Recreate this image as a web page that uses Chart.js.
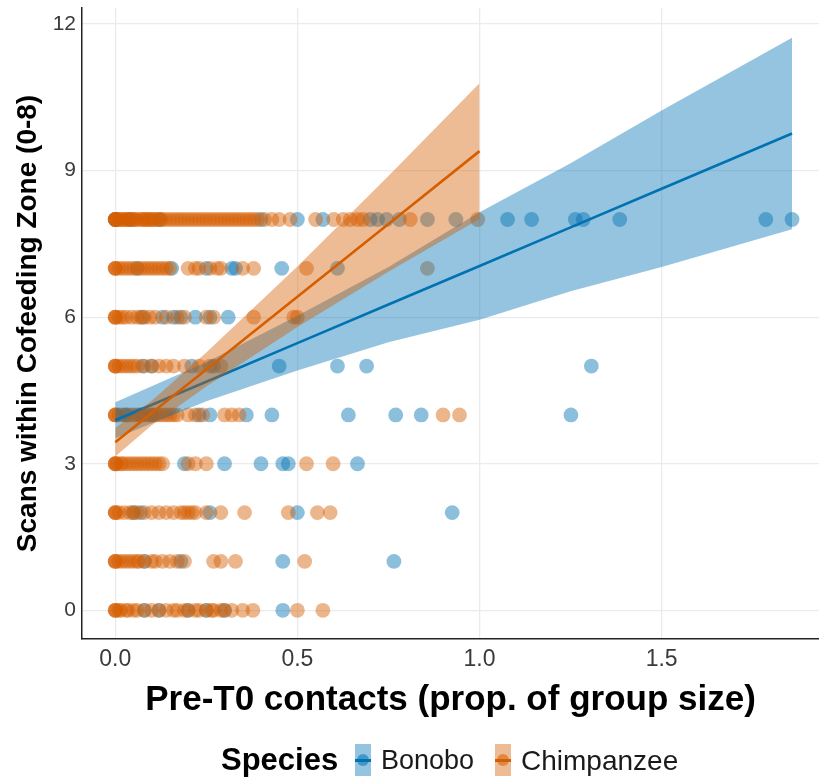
<!DOCTYPE html>
<html>
<head>
<meta charset="utf-8">
<script src="https://cdn.jsdelivr.net/npm/chart.js@4.4.1/dist/chart.umd.min.js"></script>
<style>
  html, body { margin: 0; padding: 0; background: #fff; overflow: hidden; width: 819px; height: 778px; }
  #wrap { position: relative; width: 819px; height: 778px; overflow: hidden; }
  #c { position: absolute; left: 0; top: 0; }
  .lg { position: absolute; font-family: "Liberation Sans", Arial, sans-serif; white-space: nowrap; line-height: 1; }
  .key { position: absolute; width: 16px; height: 32px; }
  .key .ln { position: absolute; left: 0; right: 0; top: 15px; height: 2.5px; }
  .key .pt { position: absolute; left: 2px; top: 10px; width: 12px; height: 12px; border-radius: 50%; }
</style>
</head>
<body>
<div id="wrap">
  <canvas id="c" width="819" height="778"></canvas>
  <div class="lg" style="left:221px; top:744px; font-size:31px; font-weight:bold; color:#000;">Species</div>
  <div class="key" style="left:355px; top:744px; background:rgba(0,114,178,0.42);"><div class="ln" style="background:#0072B2"></div><div class="pt" style="background:rgba(0,114,178,0.55)"></div></div>
  <div class="lg" style="left:381px; top:747px; font-size:27px; color:#1a1a1a;">Bonobo</div>
  <div class="key" style="left:495px; top:744px; background:rgba(213,94,0,0.42);"><div class="ln" style="background:#D55E00"></div><div class="pt" style="background:rgba(213,94,0,0.55)"></div></div>
  <div class="lg" style="left:521px; top:747px; font-size:28px; color:#1a1a1a;">Chimpanzee</div>
</div>
<script>
// ---- Data ----
// y levels (scans within cofeeding zone, 0-8)
const scanLevels = [0, 1, 2, 3, 4, 5, 6, 7, 8];

// Pre-T0 contacts (x) for each scan level, by species
const bonoboX = [
  [0.08, 0.12, 0.2, 0.25, 0.3, 0.46],                                   // 0
  [0.08, 0.18, 0.46, 0.765],                                            // 1
  [0.05, 0.07, 0.26, 0.5, 0.925],                                       // 2
  [0.19, 0.3, 0.4, 0.46, 0.475, 0.665],                                 // 3
  [0.03, 0.07, 0.1, 0.23, 0.26, 0.36, 0.43, 0.64, 0.77, 0.84, 1.251],   // 4
  [0.075, 0.1, 0.21, 0.27, 0.45, 0.61, 0.69, 1.307],                    // 5
  [0.075, 0.13, 0.16, 0.18, 0.22, 0.26, 0.31],                          // 6
  [0.06, 0.155, 0.25, 0.32, 0.33, 0.457, 0.61],                         // 7
  [0, 0.04, 0.12, 0.4, 0.5, 0.57, 0.7, 0.72, 0.745, 0.78, 0.857, 0.935,
   1.077, 1.143, 1.263, 1.285, 1.385, 1.786, 1.858]                     // 8
];
const chimpanzeeX = [
  [0, 0, 0, 0.01, 0.015, 0.03, 0.035, 0.05, 0.06, 0.08, 0.1, 0.12, 0.14, 0.16, 0.17, 0.19, 0.2, 0.22,
   0.23, 0.25, 0.265, 0.27, 0.29, 0.3, 0.32, 0.35, 0.378, 0.5, 0.57],                               // 0
  [0, 0, 0, 0.01, 0.02, 0.03, 0.04, 0.05, 0.06, 0.065, 0.08, 0.1, 0.11, 0.13, 0.15, 0.17, 0.19,
   0.27, 0.29, 0.33, 0.52],                                                                          // 1
  [0, 0, 0, 0.01, 0.025, 0.04, 0.05, 0.06, 0.08, 0.1, 0.12, 0.14, 0.16, 0.18, 0.19, 0.2, 0.21, 0.22,
   0.25, 0.29, 0.355, 0.475, 0.555, 0.59],                                                          // 2
  [0, 0, 0, 0.005, 0.015, 0.02, 0.03, 0.04, 0.05, 0.06, 0.07, 0.08, 0.09, 0.1, 0.11, 0.12, 0.13,
   0.2, 0.22, 0.25, 0.525, 0.598],                                                                   // 3
  [0, 0, 0, 0.01, 0.02, 0.03, 0.04, 0.05, 0.06, 0.07, 0.08, 0.09, 0.1, 0.11, 0.12, 0.13, 0.14, 0.15,
   0.16, 0.17, 0.2, 0.22, 0.24, 0.3, 0.32, 0.34, 0.9, 0.945],                                        // 4
  [0, 0, 0, 0.01, 0.02, 0.03, 0.04, 0.05, 0.06, 0.08, 0.1, 0.12, 0.14, 0.16, 0.19, 0.23, 0.26, 0.29], // 5
  [0, 0, 0, 0.01, 0.02, 0.03, 0.045, 0.06, 0.07, 0.08, 0.095, 0.11, 0.14, 0.17, 0.19, 0.25, 0.27,
   0.38, 0.49, 0.5],                                                                                 // 6
  [0, 0, 0, 0.01, 0.02, 0.03, 0.04, 0.05, 0.06, 0.07, 0.08, 0.09, 0.1, 0.11, 0.12, 0.13, 0.14, 0.15,
   0.2, 0.22, 0.23, 0.26, 0.28, 0.29, 0.35, 0.38, 0.525, 0.857],                                     // 7
  [0, 0, 0, 0, 0.005, 0.01, 0.015, 0.02, 0.025, 0.03, 0.035, 0.04, 0.045, 0.05, 0.055, 0.06, 0.07,
   0.075, 0.08, 0.085, 0.09, 0.095, 0.1, 0.105, 0.11, 0.12, 0.125, 0.13, 0.14, 0.15, 0.16, 0.17,
   0.18, 0.19, 0.2, 0.21, 0.22, 0.23, 0.24, 0.25, 0.26, 0.27, 0.28, 0.29, 0.3, 0.31, 0.32, 0.33,
   0.34, 0.35, 0.36, 0.37, 0.38, 0.39, 0.41, 0.43, 0.45, 0.48, 0.55, 0.6, 0.626, 0.645, 0.665, 0.68,
   0.81, 0.995]                                                                                      // 8
];

// Linear fits with 95% confidence band
const bonoboFitX     = [0, 0.25, 0.5, 0.75, 1.0, 1.25, 1.5, 1.858];
const bonoboFit      = [3.89, 4.68, 5.47, 6.26, 7.05, 7.84, 8.63, 9.76];
const bonoboUpper    = [4.26, 5.08, 6.03, 7.03, 8.15, 9.15, 10.23, 11.72];
const bonoboLower    = [3.52, 4.28, 4.91, 5.49, 5.95, 6.53, 7.03, 7.80];

const chimpanzeeFitX  = [0, 0.1, 0.25, 0.5, 0.75, 1.0];
const chimpanzeeFit   = [3.44, 4.04, 4.93, 6.42, 7.91, 9.40];
const chimpanzeeUpper = [3.73, 4.29, 5.28, 7.04, 8.89, 10.79];
const chimpanzeeLower = [3.15, 3.79, 4.58, 5.80, 6.93, 8.01];

// Axis ticks
const xTicks = [0, 0.5, 1.0, 1.5];
const yTicks = [0, 3, 6, 9, 12];

// ---- Build chart ----
const BLUE = '#0072B2', ORANGE = '#D55E00';
function pts(rows) {
  const out = [];
  rows.forEach((xs, i) => xs.forEach(x => out.push({ x: x, y: scanLevels[i] })));
  return out;
}
function xy(xs, ys) { return xs.map((x, i) => ({ x: x, y: ys[i] })); }

const FONT = '"Liberation Sans", Arial, sans-serif';

new Chart(document.getElementById('c'), {
  type: 'scatter',
  data: {
    datasets: [
      { type: 'line', label: 'Chimpanzee fit', data: xy(chimpanzeeFitX, chimpanzeeFit), borderColor: ORANGE, borderWidth: 2.6, pointRadius: 0, fill: false, order: 1, tension: 0 },
      { type: 'line', label: 'Chimpanzee upper', data: xy(chimpanzeeFitX, chimpanzeeUpper), borderWidth: 0, borderColor: 'rgba(0,0,0,0)', backgroundColor: 'rgba(213,94,0,0.42)', pointRadius: 0, fill: '+1', order: 2, tension: 0 },
      { type: 'line', label: 'Chimpanzee lower', data: xy(chimpanzeeFitX, chimpanzeeLower), borderWidth: 0, borderColor: 'rgba(0,0,0,0)', pointRadius: 0, fill: false, order: 2, tension: 0 },
      { type: 'line', label: 'Bonobo fit', data: xy(bonoboFitX, bonoboFit), borderColor: BLUE, borderWidth: 2.6, pointRadius: 0, fill: false, order: 3, tension: 0 },
      { type: 'line', label: 'Bonobo upper', data: xy(bonoboFitX, bonoboUpper), borderWidth: 0, borderColor: 'rgba(0,0,0,0)', backgroundColor: 'rgba(0,114,178,0.42)', pointRadius: 0, fill: '+1', order: 4, tension: 0 },
      { type: 'line', label: 'Bonobo lower', data: xy(bonoboFitX, bonoboLower), borderWidth: 0, borderColor: 'rgba(0,0,0,0)', pointRadius: 0, fill: false, order: 4, tension: 0 },
      { label: 'Chimpanzee', data: pts(chimpanzeeX), backgroundColor: 'rgba(213,94,0,0.45)', borderWidth: 0, pointRadius: 7.4, order: 5 },
      { label: 'Bonobo', data: pts(bonoboX), backgroundColor: 'rgba(0,114,178,0.45)', borderWidth: 0, pointRadius: 7.4, order: 6 }
    ]
  },
  options: {
    responsive: false,
    animation: false,
    devicePixelRatio: 1,
    layout: { autoPadding: false, padding: { left: 0, right: 0, top: 8, bottom: 57 } },
    plugins: { legend: { display: false }, tooltip: { enabled: false } },
    scales: {
      x: {
        type: 'linear', min: -0.0913, max: 1.932,
        afterBuildTicks: s => { s.ticks = xTicks.map(v => ({ value: v })); },
        afterFit: s => { s.height = 82; s.paddingLeft = 0; s.paddingRight = 0; },
        grid: { color: '#EBEBEB', lineWidth: 1.3, drawTicks: false },
        border: { display: true, color: '#222', width: 1.5 },
        ticks: { padding: 7, color: '#3a3a3a', font: { family: FONT, size: 23 }, callback: v => Number(v).toFixed(1), maxRotation: 0 },
        title: { display: true, text: 'Pre-T0 contacts (prop. of group size)', color: '#000', font: { family: FONT, size: 35, weight: 'bold' }, padding: { top: 0, bottom: 0 } }
      },
      y: {
        type: 'linear', min: -0.587, max: 12.33,
        afterBuildTicks: s => { s.ticks = yTicks.map(v => ({ value: v })); },
        afterFit: s => { s.width = 82; s.paddingTop = 0; s.paddingBottom = 0; },
        grid: { color: '#EBEBEB', lineWidth: 1.3, drawTicks: false },
        border: { display: true, color: '#222', width: 1.5 },
        ticks: { padding: 6, color: '#3a3a3a', font: { family: FONT, size: 21 }, callback: v => String(v) },
        title: { display: true, text: 'Scans within Cofeeding Zone (0-8)', color: '#000', font: { family: FONT, size: 28, weight: 'bold' }, padding: { top: 11, bottom: 0 } }
      }
    }
  }
});
</script>
</body>
</html>
